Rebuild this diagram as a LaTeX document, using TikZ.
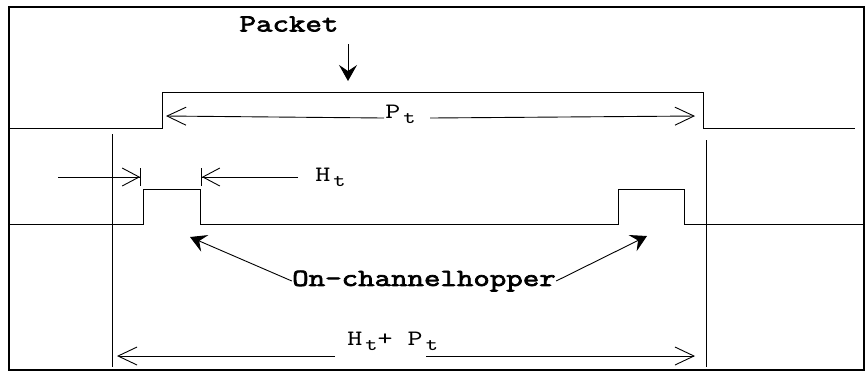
\documentclass[tikz,border=0pt]{standalone}
\usepackage{fontspec}
\usetikzlibrary{arrows.meta}
\newfontfamily\monolabel[FakeStretch=1.3]{Latin Modern Mono}
\newfontfamily\monobold[FakeStretch=1.3,FakeBold=3]{Latin Modern Mono}
\newcommand\tsub[1]{\hspace{1.5pt}\raisebox{-0.5ex}{\fontsize{9}{9}\selectfont #1}}
\begin{document}
\begin{tikzpicture}[x=0.5pt, y=-0.5pt,
    sig/.style={line width=0.5pt},
    dim/.style={line width=0.45pt, -{Straight Barb[length=9.5pt,width=9pt]}},
    dimbar/.style={line width=0.45pt, -{Straight Barb[length=8.5pt,width=9pt,sep=0pt]Bar[width=9pt]}},
    pointer/.style={line width=0.45pt, -{Stealth[length=8pt,width=9pt,inset=3pt]}},
    lbl/.style={font=\monolabel\fontsize{11}{12}\selectfont, inner sep=0pt},
    bigtag/.style={font=\monobold\fontsize{12.3}{13}\selectfont, inner sep=0pt}]
    \useasboundingbox (0,0) rectangle (866,372);
    \draw[line width=1.4pt] (9,7) rectangle (864,370);

    % packet signal
    \draw[sig] (9,128) -- (162,128) -- (162,92) -- (703,92) -- (703,128) -- (855,128);
    % hopper signal
    \draw[sig] (9,224) -- (143,224) -- (143,189) -- (200,189) -- (200,224)
        -- (618,224) -- (618,189) -- (684,189) -- (684,224) -- (864,224);

    % markers
    \draw[sig] (112,134) -- (112,367);
    \draw[sig] (706,140) -- (706,367);

    % labels
    \node[bigtag] (packet) at (289,24) {Packet};
    \node[lbl, anchor=west] (pt) at (385,114) {P\tsub{t}};
    \node[lbl, anchor=west] (ht) at (315,177) {H\tsub{t}};
    \node[lbl, anchor=west] (htpt) at (347,341) {H\tsub{t}+ P\tsub{t}};
    \node[bigtag] (hopper) at (424,281) {On-channelhopper};

    \coordinate (pktTip) at (348,81);
    \coordinate (pktTail) at (348,44);
    \coordinate (ptL) at (166,116);
    \coordinate (ptR) at (695,116);
    \coordinate (htA) at (58,177);
    \coordinate (htB) at (141,177);
    \coordinate (htC) at (298,177);
    \coordinate (htD) at (201,177);
    \coordinate (sumL) at (117,356);
    \coordinate (sumR) at (695,356);
    \coordinate (hopL) at (190,237);
    \coordinate (hopR) at (647,236);

    % arrows
    \draw[pointer] (pktTail) -- (pktTip);
    \draw[dim] ([yshift=-2pt]pt.west) ++(-1,0) -- (ptL);
    \draw[dim] ([xshift=7pt,yshift=-2pt]pt.east) -- (ptR);
    \draw[dimbar] (htA) -- (htB);
    \draw[dimbar] (htC) -- (htD);
    \draw[dim] ([xshift=-6pt]htpt.west |- sumL) -- (sumL);
    \draw[dim] ([xshift=-6pt]htpt.east |- sumR) -- (sumR);
    \draw[pointer] (hopper.west) -- (hopL);
    \draw[pointer] (hopper.east) -- (hopR);
\end{tikzpicture}
\end{document}
